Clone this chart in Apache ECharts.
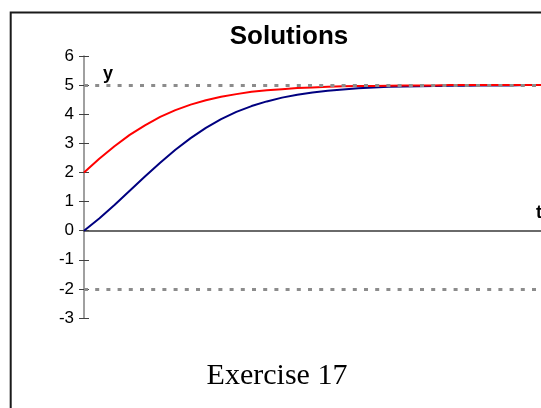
<!DOCTYPE html>
<html>
<head>
<meta charset="utf-8">
<script src="https://cdn.jsdelivr.net/npm/echarts@6/dist/echarts.min.js"></script>
<style>
html, body { margin: 0; padding: 0; background: #fff; }
#chart { width: 541px; height: 408px; }
</style>
</head>
<body>
<div id="chart"></div>
<script>
// t sampled every 0.2
const tValues = [0, 0.2, 0.4, 0.6, 0.8, 1.0, 1.2, 1.4, 1.6, 1.8, 2.0, 2.2, 2.4, 2.6, 2.8, 3.0,
    3.2, 3.4, 3.6, 3.8, 4.0, 4.2, 4.4, 4.6, 4.8, 5.0, 5.2, 5.4, 5.6, 5.8, 6.0]
// solution starting at y = 2
const redValues = [2, 2.47, 2.90, 3.29, 3.62, 3.91, 4.14, 4.33, 4.48, 4.60, 4.69, 4.77, 4.82, 4.86, 4.90, 4.92,
    4.94, 4.96, 4.97, 4.97, 4.98, 4.99, 4.99, 4.99, 5.00, 5.00, 5.00, 5.00, 5.00, 5.00, 5.00]
// solution starting at y = 0
const blueValues = [0, 0.42, 0.88, 1.37, 1.86, 2.33, 2.78, 3.18, 3.53, 3.83, 4.08, 4.28, 4.44, 4.57, 4.67, 4.75,
    4.81, 4.85, 4.89, 4.92, 4.94, 4.95, 4.96, 4.97, 4.98, 4.98, 4.99, 4.99, 4.99, 5.00, 5.00]
// equilibrium solutions (dotted)
const equilibria = [5, -2]
const yMin = -3
const yMax = 6
const yStep = 1
const tMax = 6

const chart = echarts.init(document.getElementById('chart'))

const yAxisBase = {
    type: 'value',
    position: 'left',
    offset: 0,
    min: yMin,
    max: yMax,
    interval: yStep,
    splitLine: { show: false }
}

chart.setOption({
    animation: false,
    backgroundColor: '#fff',
    grid: { left: 84, top: 56, width: 540, height: 262 },
    xAxis: {
        type: 'value',
        min: 0,
        max: tMax,
        axisLine: { onZero: true, lineStyle: { color: '#3a3a3a', width: 1.5 } },
        axisTick: { show: false },
        axisLabel: { show: false },
        splitLine: { show: false }
    },
    yAxis: [
        Object.assign({}, yAxisBase, {
            axisLine: { show: true, lineStyle: { color: '#808080', width: 1.5 } },
            axisTick: { show: true, length: 5, lineStyle: { color: '#404040' } },
            axisLabel: { fontSize: 17, fontFamily: '"Liberation Sans", Arial', color: '#000', margin: 10 }
        }),
        Object.assign({}, yAxisBase, {
            axisLine: { show: false },
            axisTick: { show: true, inside: true, length: 5, lineStyle: { color: '#404040' } },
            axisLabel: { show: false }
        })
    ],
    series: [
        {
            type: 'line',
            data: tValues.map((t, i) => [t, blueValues[i]]),
            showSymbol: false,
            lineStyle: { color: '#000080', width: 2 },
            z: 2
        },
        {
            type: 'line',
            data: tValues.map((t, i) => [t, redValues[i]]),
            showSymbol: false,
            lineStyle: { color: '#ff0000', width: 2 },
            z: 3
        },
        {
            type: 'line',
            data: [],
            z: 4,
            markLine: {
                silent: true,
                symbol: 'none',
                label: { show: false },
                lineStyle: { color: '#8c8c8c', width: 3, type: [4, 7.2] },
                data: equilibria.map(v => ({ yAxis: v }))
            }
        }
    ],
    graphic: [
        {
            type: 'rect', silent: true,
            shape: { x: 10.7, y: 12.6, width: 700, height: 600 },
            style: { fill: 'none', stroke: '#1a1a1a', lineWidth: 2 }
        },
        {
            type: 'text', x: 289, y: 37,
            style: { text: 'Solutions', font: 'bold 26px "Liberation Sans", Arial', fill: '#000',
                textAlign: 'center', textVerticalAlign: 'middle', align: 'center', verticalAlign: 'middle' }
        },
        {
            type: 'text', x: 103, y: 74,
            style: { text: 'y', font: 'bold 18px "Liberation Sans", Arial', fill: '#000',
                textAlign: 'left', textVerticalAlign: 'middle', align: 'left', verticalAlign: 'middle' }
        },
        {
            type: 'text', x: 536, y: 213,
            style: { text: 't', font: 'bold 18px "Liberation Sans", Arial', fill: '#000',
                textAlign: 'left', textVerticalAlign: 'middle', align: 'left', verticalAlign: 'middle' }
        },
        {
            type: 'text', x: 277, y: 376,
            style: { text: 'Exercise 17', font: '30px "Liberation Serif", "Times New Roman", serif', fill: '#000',
                textAlign: 'center', textVerticalAlign: 'middle', align: 'center', verticalAlign: 'middle' }
        }
    ]
})
</script>
</body>
</html>
